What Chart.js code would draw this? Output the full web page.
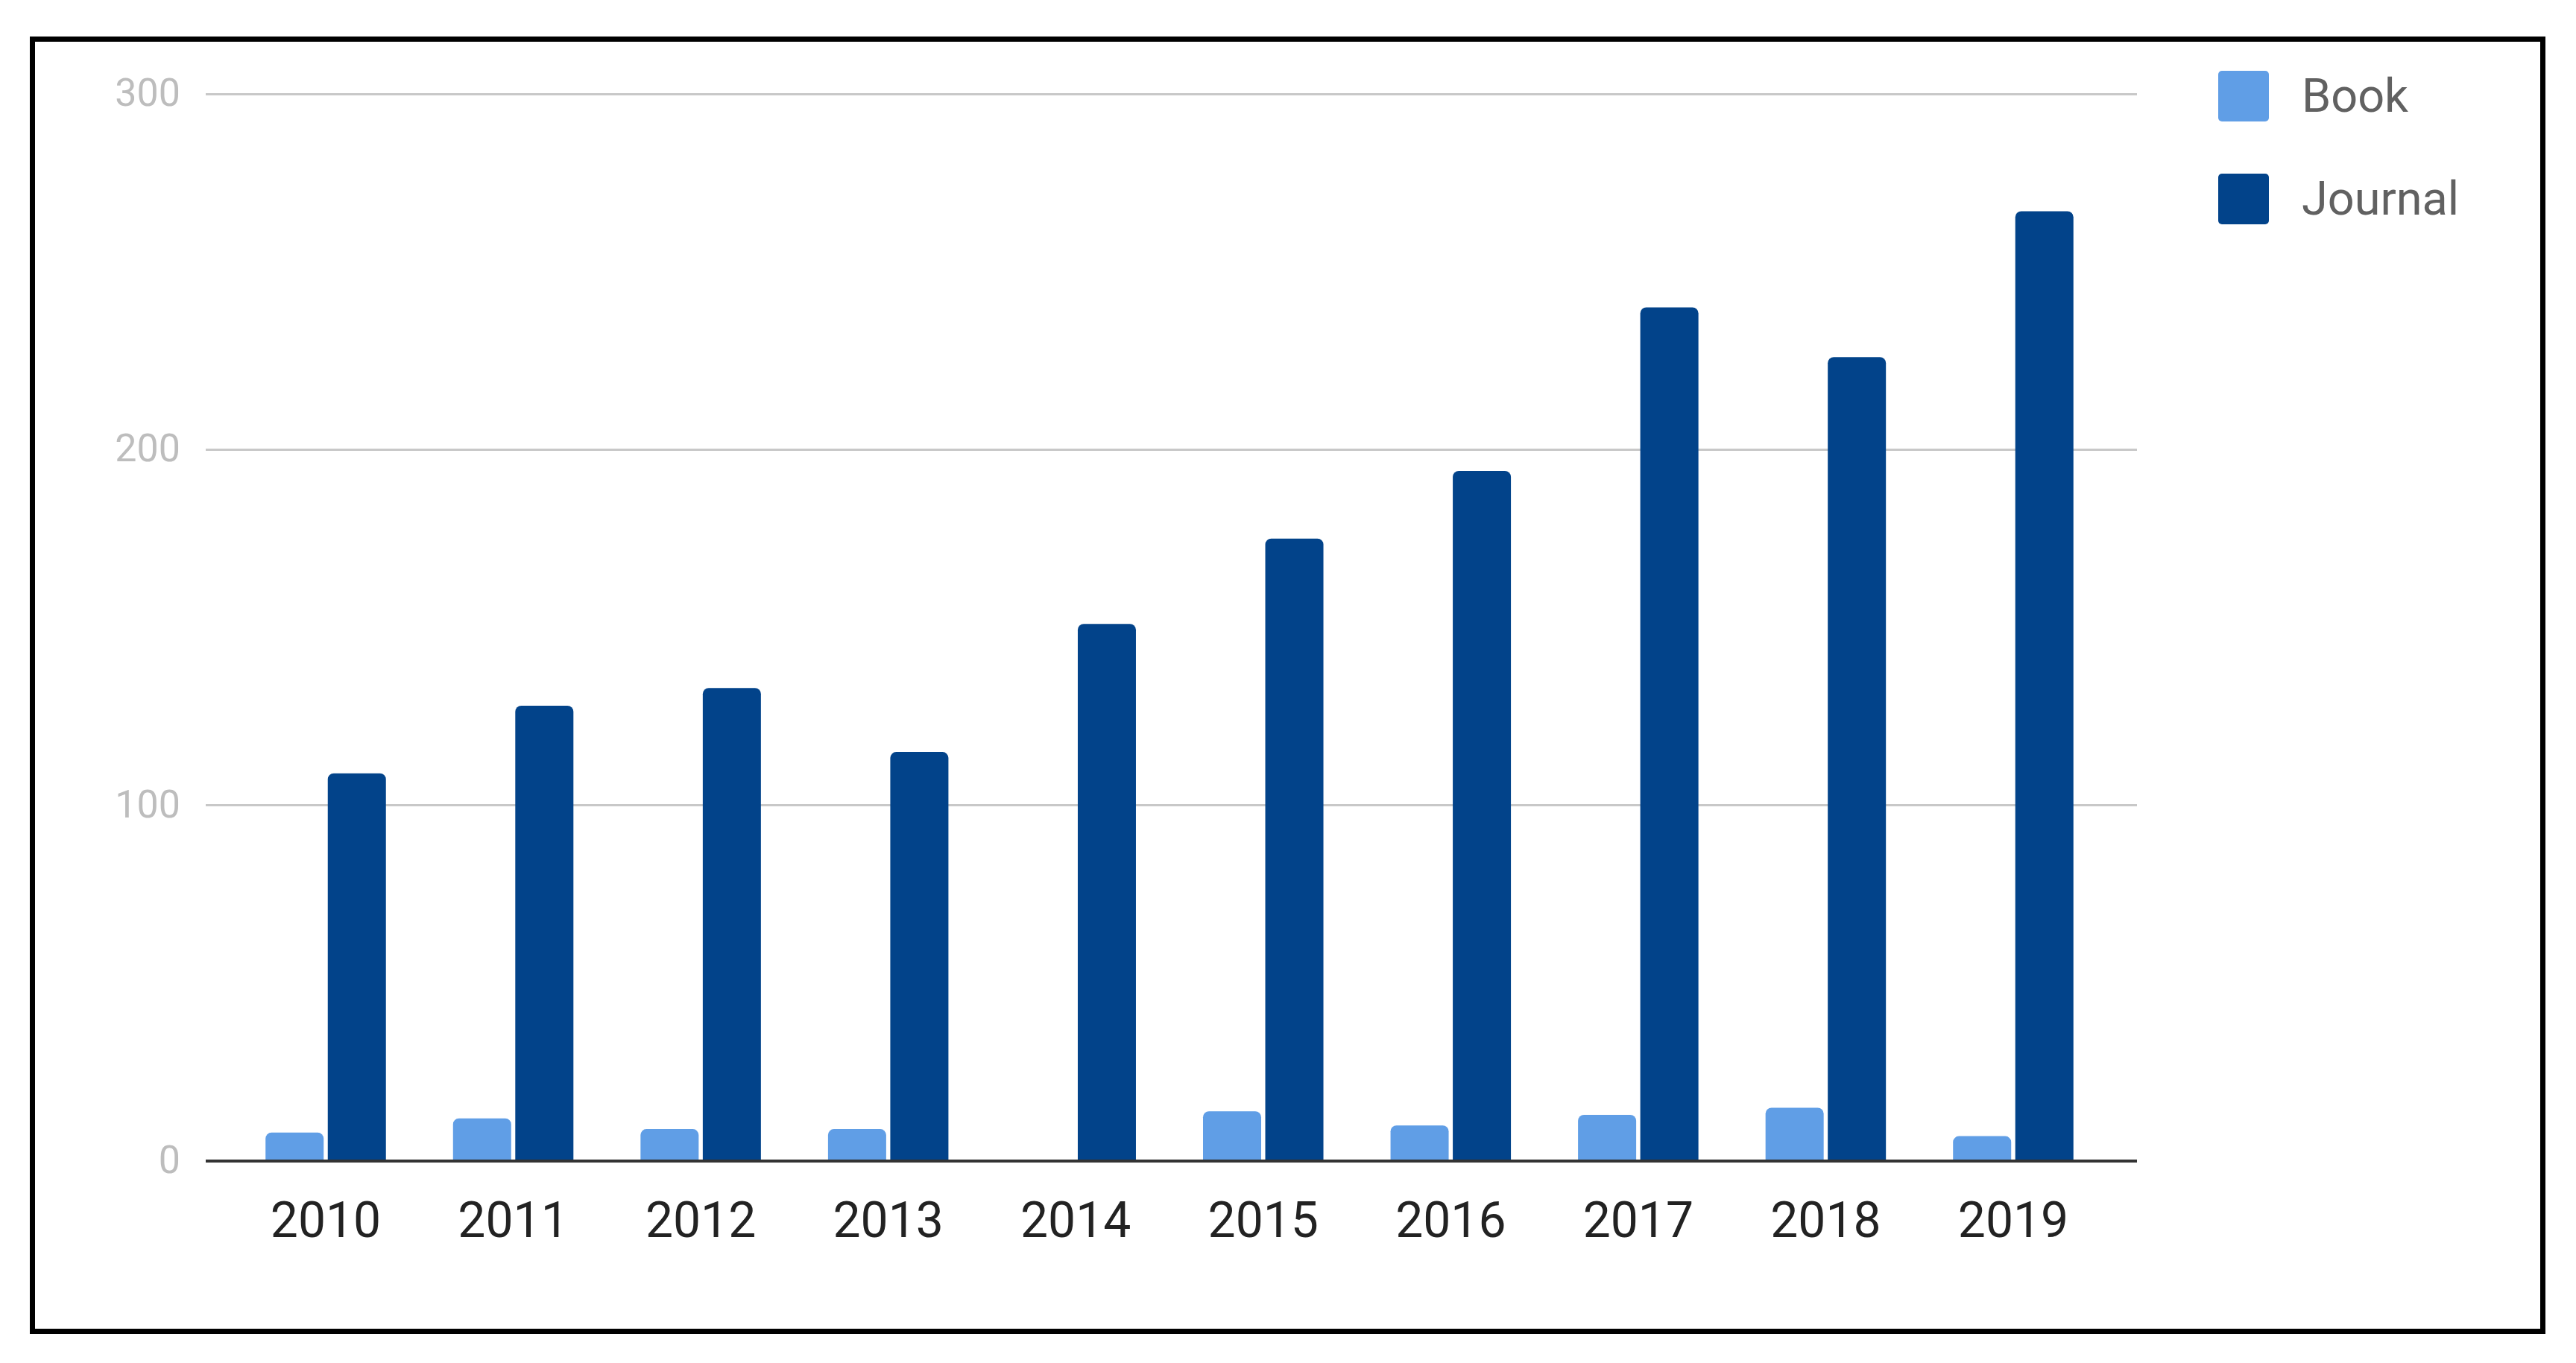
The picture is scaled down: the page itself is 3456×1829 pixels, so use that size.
<!DOCTYPE html>
<html>
<head>
<meta charset="utf-8">
<script src="https://cdn.jsdelivr.net/npm/chart.js@4"></script>
<style>
  html, body { margin: 0; padding: 0; background: #ffffff; }
  #wrap { position: absolute; left: 0; top: 0; width: 3456px; height: 1829px; }
  #frame { position: absolute; left: 40px; top: 49px; width: 3375px; height: 1741px;
           box-sizing: border-box; border: 7px solid #000; pointer-events: none; }
</style>
</head>
<body>
<div id="wrap">
  <canvas id="c" width="3456" height="1829"></canvas>
  <div id="frame"></div>
</div>
<script>
const years = ['2010','2011','2012','2013','2014','2015','2016','2017','2018','2019'];
const bookValues = [8, 12, 9, 9, 0, 14, 10, 13, 15, 7];
const journalValues = [109, 128, 133, 115, 151, 175, 194, 240, 226, 267];
const seriesNames = ['Book', 'Journal'];
const seriesColors = ['#609ee6', '#02438a'];
const yTicks = [0, 100, 200, 300];

const legendPlugin = {
  id: 'sideLegend',
  afterDraw(chart) {
    const ctx = chart.ctx;
    const area = chart.chartArea;
    ctx.save();
    chart.data.datasets.forEach((ds, i) => {
      const bx = area.right + 109;
      const by = area.top - 31 + i * 138;
      ctx.fillStyle = ds.backgroundColor;
      ctx.beginPath();
      ctx.roundRect(bx, by, 68, 68, 5);
      ctx.fill();
      ctx.fillStyle = '#616161';
      ctx.font = '63px Roboto';
      ctx.textAlign = 'left';
      ctx.textBaseline = 'middle';
      ctx.fillText(ds.label, bx + 112, by + 39);
    });
    ctx.restore();
  }
};

function draw() {
  new Chart(document.getElementById('c'), {
    type: 'bar',
    data: {
      datasets: [
        { label: seriesNames[0], data: years.map((y, i) => ({x: i, y: bookValues[i]})),
          backgroundColor: seriesColors[0], borderRadius: {topLeft: 8, topRight: 8}, borderSkipped: 'start' },
        { label: seriesNames[1], data: years.map((y, i) => ({x: i, y: journalValues[i]})),
          backgroundColor: seriesColors[1], borderRadius: {topLeft: 8, topRight: 8}, borderSkipped: 'start' }
      ]
    },
    options: {
      responsive: false,
      devicePixelRatio: 1,
      animation: false,
      categoryPercentage: 0.664,
      barPercentage: 0.934,
      layout: { padding: { left: 0, right: 589, top: 126, bottom: 0 } },
      plugins: { legend: { display: false }, tooltip: { enabled: false } },
      scales: {
        x: {
          type: 'linear',
          offset: false,
          min: -0.64,
          max: 9.66,
          grid: { display: false },
          border: { display: false },
          afterFit(scale) { scale.height = 271; },
          ticks: {
            stepSize: 1,
            includeBounds: false,
            autoSkip: false,
            maxRotation: 0,
            padding: 38,
            color: '#222222',
            font: { family: 'Roboto', size: 66 },
            callback: (v) => (Number.isInteger(v) && years[v] !== undefined) ? years[v] : ''
          }
        },
        y: {
          min: 0,
          max: 300,
          afterFit(scale) { scale.width = 276; },
          afterBuildTicks(scale) { scale.ticks = yTicks.map(v => ({value: v})); },
          grid: {
            drawTicks: false,
            color: (c) => c.tick && c.tick.value === 0 ? '#333333' : '#c8c8c8',
            lineWidth: (c) => c.tick && c.tick.value === 0 ? 4 : 3
          },
          border: { display: false },
          ticks: {
            padding: 34,
            labelOffset: 3,
            color: '#bdbdbd',
            font: { family: 'Roboto', size: 52 }
          }
        }
      }
    },
    plugins: [legendPlugin]
  });
}

if (document.fonts && document.fonts.load) {
  Promise.all([document.fonts.load('52px Roboto'), document.fonts.load('66px Roboto')])
    .then(draw, draw);
} else {
  draw();
}
</script>
</body>
</html>
